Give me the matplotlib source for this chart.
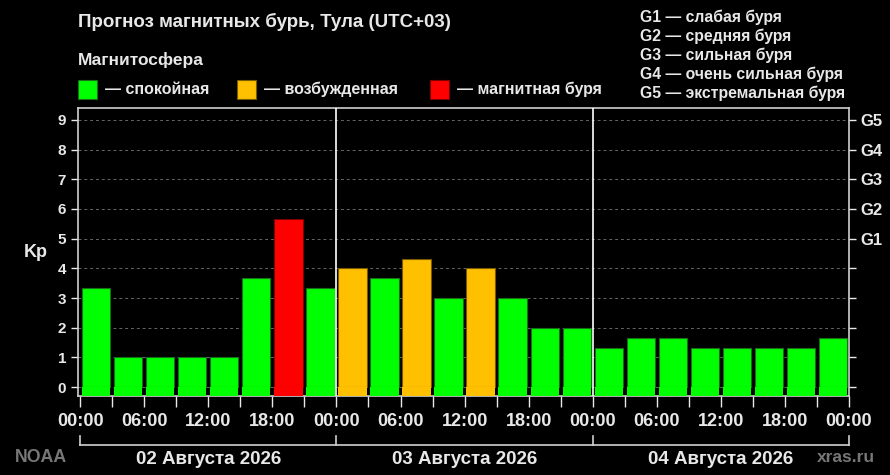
import matplotlib
matplotlib.use("Agg")
import matplotlib.pyplot as plt
from matplotlib.patches import Rectangle
from matplotlib.transforms import blended_transform_factory

plt.rcParams["font.family"] = ["Liberation Sans", "DejaVu Sans"]
plt.rcParams["font.weight"] = "bold"
plt.rcParams["axes.labelweight"] = "bold"

# данные прогноза Kp по 3-часовым интервалам
days = ["02 Августа 2026", "03 Августа 2026", "04 Августа 2026"]
kp = [3.33, 1, 1, 1, 1, 3.67, 5.67, 3.33,
      4.0, 3.67, 4.33, 3.0, 4.0, 3.0, 2.0, 2.0,
      1.33, 1.67, 1.67, 1.33, 1.33, 1.33, 1.33, 1.67]
hour_labels = ["00:00", "06:00", "12:00", "18:00"]
g_levels = ["G1", "G2", "G3", "G4", "G5"]
g_names = ["слабая буря", "средняя буря", "сильная буря",
           "очень сильная буря", "экстремальная буря"]
legend_names = ["спокойная", "возбужденная", "магнитная буря"]

GREEN, ORANGE, RED = "#00ff00", "#ffc000", "#ff0000"
FG = "#e8e8e8"
EDGE = {GREEN: "#1a6f1a", ORANGE: "#7a5a00", RED: "#800000"}


def kp_color(v):
    if v >= 5:
        return RED
    if v >= 4:
        return ORANGE
    return GREEN


fig = plt.figure(figsize=(8.9, 4.75), dpi=100, facecolor="black")
ax = fig.add_axes([0.0876, 0.1663, 0.8664, 0.6063], facecolor="black")

x = [i * 3 + 1.5 for i in range(len(kp))]
colors = [kp_color(v) for v in kp]
ax.bar(x, kp, width=2.65, bottom=0, color=colors,
       edgecolor=[EDGE[c] for c in colors], linewidth=0.8, zorder=3)
# бары начинаются чуть ниже нуля
ax.bar(x, [0.3] * len(kp), width=2.65, bottom=-0.3, color=colors,
       linewidth=0, zorder=3)

ax.set_xlim(-0.2, 72)
ax.set_ylim(-0.3, 9.4)

for d in (24, 48):
    ax.axvline(d, color="white", lw=1.2, zorder=4)

ax.set_yticks(range(10))
ax.grid(axis="y", color="#666666", ls=(0, (3, 3)), lw=0.7, zorder=1)
ax.tick_params(axis="y", colors=FG, labelsize=11, length=5, width=1)

major = list(range(0, 73, 6))
ax.set_xticks(major)
ax.set_xticklabels([hour_labels[(h // 6) % 4] for h in major])
ax.set_xticks(list(range(3, 72, 6)), minor=True)
ax.tick_params(axis="x", which="both", colors=FG, labelsize=13, length=8, width=1, pad=4)

for s in ax.spines.values():
    s.set_color("#d0d0d0")
    s.set_linewidth(1.2)

ax.set_ylabel("Kp", color=FG, fontsize=13, rotation=0, labelpad=16, va="center")

ax2 = ax.twinx()
ax2.set_ylim(ax.get_ylim())
ax2.set_yticks(range(10))
ax2.set_yticklabels([""] * 5 + g_levels)
ax2.tick_params(axis="y", colors=FG, labelsize=12, length=5, width=1)
for s in ax2.spines.values():
    s.set_visible(False)

# скобки дат под осью
tr = blended_transform_factory(ax.transData, ax.transAxes)
yb = -0.17
ax.plot([0, 72], [yb, yb], color="#d0d0d0", lw=1.2, transform=tr, clip_on=False)
for d in (0, 24, 48, 72):
    ax.plot([d, d], [yb, yb + 0.03], color="#d0d0d0", lw=1.2, transform=tr, clip_on=False)
for i, name in enumerate(days):
    ax.text(i * 24 + 12, -0.22, name, transform=tr, ha="center", va="center",
            color=FG, fontsize=13.5)

fig.text(15 / 890, 1 - 458 / 475, "NOAA", color="#777777", fontsize=12.8, va="center")
fig.text(875 / 890, 1 - 458 / 475, "xras.ru", color="#777777", fontsize=12.5,
         va="center", ha="right")

# заголовок и легенда
fig.text(78 / 890, 1 - 22 / 475, "Прогноз магнитных бурь, Тула (UTC+03)",
         color=FG, fontsize=13.5, va="center")
fig.text(78 / 890, 1 - 60 / 475, "Магнитосфера", color=FG, fontsize=12.5, va="center")
sq = [(78, GREEN), (237, ORANGE), (430, RED)]
for (px, c), name in zip(sq, legend_names):
    fig.patches.append(Rectangle((px / 890, 1 - 99 / 475), 19 / 890, 19 / 475,
                                 transform=fig.transFigure, facecolor=c,
                                 edgecolor=EDGE[c], lw=0.8))
    fig.text((px + 27) / 890, 1 - 89 / 475, "— " + name, color=FG,
             fontsize=11.5, va="center")

for i, (g, n) in enumerate(zip(g_levels, g_names)):
    fig.text(640 / 890, 1 - (17 + i * 19) / 475, f"{g} — {n}", color=FG,
             fontsize=11.3, va="center")

fig.savefig("out.png", dpi=100, facecolor="black")
